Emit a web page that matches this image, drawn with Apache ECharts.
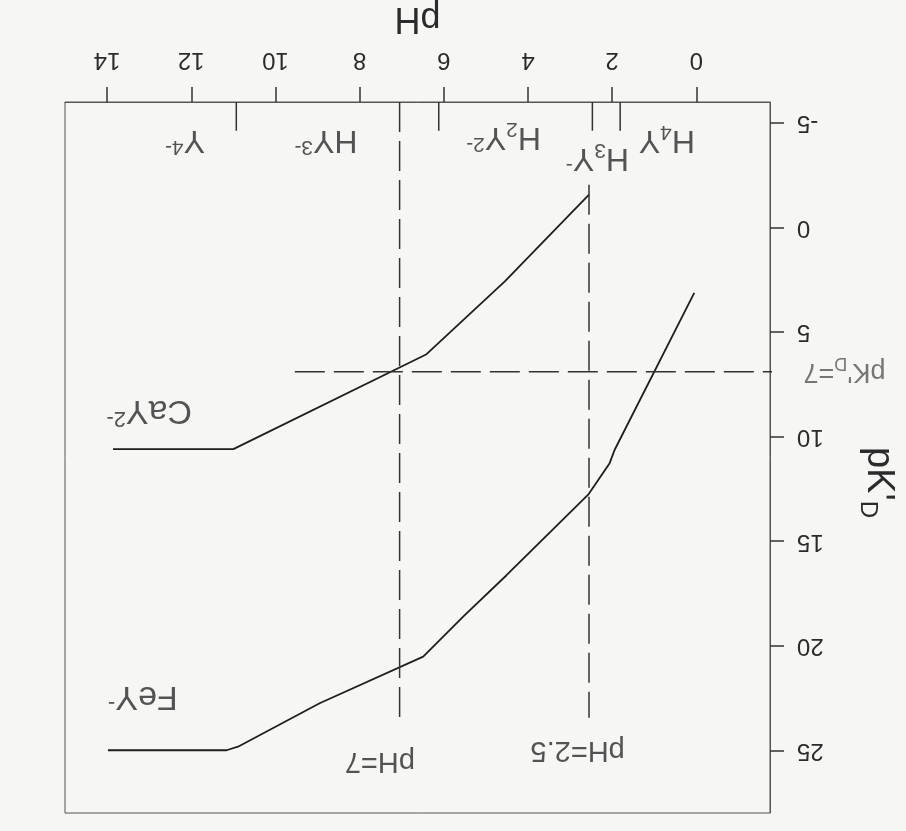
<!DOCTYPE html>
<html><head><meta charset="utf-8">
<script src="https://cdn.jsdelivr.net/npm/echarts@6/dist/echarts.min.js"></script>
<style>html,body{margin:0;padding:0;background:#f6f6f4;}#c{width:906px;height:831px;}</style>
</head><body><div id="c"></div>
<script>
// ---- data ----
const pHTicks = [0, 2, 4, 6, 8, 10, 12, 14];
const pKTicks = [-5, 0, 5, 10, 15, 20, 25];

const cayPH = [13.86, 11.0, 6.41, 4.55, 2.55];
const cayPK = [10.6, 10.6, 6.06, 2.58, -1.57];

const feyPH = [13.98, 11.16, 10.89, 8.95, 6.49, 5.54, 4.51, 2.57, 2.06, 1.94, 0.05];
const feyPK = [25.0, 25.0, 24.83, 22.75, 20.52, 18.61, 16.63, 12.78, 11.27, 10.63, 3.13];

// species boundaries along the top edge
const speciesBounds = [10.93, 6.12, 2.47, 1.81];
const speciesBoundPK = [-6, -4.63];
const speciesLabels = ['Y{sup|4-}', 'HY{sup|3-}', 'H{sub|2}Y{sup|2-}', 'H{sub|3}Y{sup|-}', 'H{sub|4}Y'];
const speciesPH = [12.15, 8.8, 4.58, 2.35, 0.7];
const speciesPK = [-4.2, -4.2, -4.35, -3.35, -4.2];

// reference dashed lines
const refPH = [7.05, 2.55];
const refPHFrom = [-6, -2.04];
const refPHTo = [23.55, 23.45];
const refPK = 6.9;
const refPKFromPH = 9.54;
const refPKToPH = -2.33;

// curve labels
const curveLabels = ['CaY{sup|2-}', 'FeY{sup|-}'];
const curveLabelPH = [13.0, 13.15];
const curveLabelPK = [8.77, 22.4];

// reference line labels
const refLabels = ['pH=7', 'pH=2.5'];
const refLabelPH = [7.52, 2.82];
const refLabelPK = [25.5, 25.0];
const pkLabel = "pK'{sub|D}=7";
const pkLabelPH = -3.52;
const pkLabelPK = 6.9;

// ---- chart ----
const FONT = 'Liberation Sans';
const TXT = '#2b2b2b';
const LINE = '#1e1e1e';

function richSet(base, color) {
  return {
    sub: { fontSize: Math.round(base * 0.65), fontFamily: FONT, color: color, lineHeight: 16, verticalAlign: 'bottom' },
    sup: { fontSize: Math.round(base * 0.65), fontFamily: FONT, color: color, lineHeight: 16, verticalAlign: 'top' }
  };
}
function labelSeries(texts, xs, ys, size, clip, color) {
  const c = color || TXT;
  return {
    type: 'scatter', symbolSize: 0, clip: !!clip, silent: true,
    data: texts.map((t, i) => ({ value: [xs[i], ys[i]], name: t })),
    label: {
      show: true, position: 'inside', rotate: 180,
      formatter: p => p.name,
      fontSize: size, fontFamily: FONT, color: c, lineHeight: 36,
      rich: richSet(size, c)
    }
  };
}

const series = [];
series.push({ type: 'line', symbol: 'none', data: cayPH.map((x, i) => [x, cayPK[i]]), lineStyle: { color: LINE, width: 1.8 } });
series.push({ type: 'line', symbol: 'none', data: feyPH.map((x, i) => [x, feyPK[i]]), lineStyle: { color: LINE, width: 1.8 } });
refPH.forEach((x, i) => series.push({
  type: 'line', symbol: 'none', data: [[x, refPHFrom[i]], [x, refPHTo[i]]],
  lineStyle: { color: '#333', width: 1.5, type: [30, 9] }
}));
series.push({
  type: 'line', symbol: 'none', clip: false, data: [[refPKFromPH, refPK], [refPKToPH, refPK]],
  lineStyle: { color: '#333', width: 1.5, type: [30, 9] }
});
speciesBounds.forEach(x => series.push({
  type: 'line', symbol: 'none', data: [[x, speciesBoundPK[0]], [x, speciesBoundPK[1]]],
  lineStyle: { color: '#333', width: 1.5 }
}));
series.push(labelSeries(speciesLabels, speciesPH, speciesPK, 32));
series.push(labelSeries(curveLabels, curveLabelPH, curveLabelPK, 34));
series.push(labelSeries(refLabels, refLabelPH, refLabelPK, 29));
series.push(labelSeries([pkLabel], [pkLabelPH], [pkLabelPK], 27, false, '#555'));

const chart = echarts.init(document.getElementById('c'));
chart.setOption({
  animation: false,
  backgroundColor: '#f6f6f4',
  grid: { left: 65, right: 136, top: 102, bottom: 18, show: true, borderColor: '#555', borderWidth: 1,
          containLabel: false, outerBoundsMode: 'none' },
  xAxis: {
    type: 'value', position: 'top', inverse: true, min: -1.75, max: 15,
    axisLine: { show: true, onZero: false, lineStyle: { color: '#555', width: 1 } },
    axisTick: { show: true, length: 15, customValues: pHTicks, lineStyle: { color: '#333', width: 1.5 } },
    axisLabel: { customValues: pHTicks, rotate: 180, margin: 30, fontSize: 24, fontFamily: FONT, color: TXT },
    splitLine: { show: false },
    name: 'pH', nameLocation: 'middle', nameGap: 66, nameRotate: 180,
    nameTextStyle: { fontSize: 36, fontFamily: FONT, color: TXT }
  },
  yAxis: {
    type: 'value', position: 'right', inverse: true, min: -6, max: 28,
    axisLine: { show: true, onZero: false, lineStyle: { color: '#555', width: 1 } },
    axisTick: { show: true, length: 14, customValues: pKTicks, lineStyle: { color: '#333', width: 1.5 } },
    axisLabel: { customValues: pKTicks, rotate: 180, margin: 27, fontSize: 24, fontFamily: FONT, color: TXT },
    splitLine: { show: false },
    name: "{a|pK'}{sub|D}", nameLocation: 'middle', nameGap: 86, nameRotate: -90,
    nameTextStyle: {
      fontSize: 38, fontFamily: FONT, color: TXT, padding: [0, 0, 0, 50],
      rich: { a: { fontSize: 38, fontFamily: FONT, color: TXT, lineHeight: 44 }, sub: { fontSize: 24, fontFamily: FONT, color: TXT, lineHeight: 18, verticalAlign: 'bottom' } }
    }
  },
  series: series
});
</script></body></html>
